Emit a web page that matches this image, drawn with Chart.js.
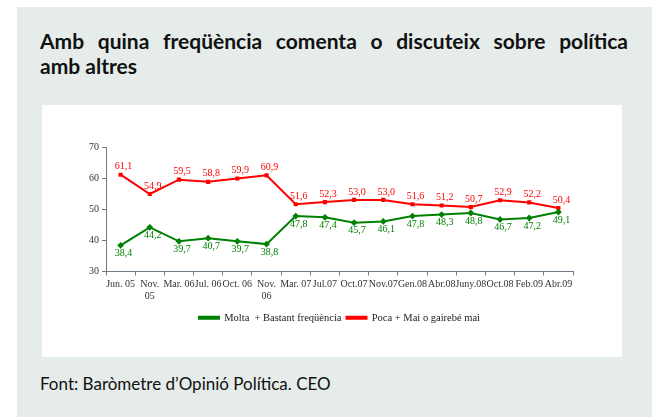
<!DOCTYPE html>
<html>
<head>
<meta charset="utf-8">
<script src="https://cdn.jsdelivr.net/npm/chart.js@4/dist/chart.umd.min.js"></script>
<style>
  html, body { margin: 0; padding: 0; background: #ffffff; }
  body { width: 657px; height: 417px; position: relative; overflow: hidden; }
  #panel { position: absolute; left: 17px; top: 7px; width: 635px; height: 410px; background: #e5ecea; }
  #title { position: absolute; left: 40px; top: 28px; width: 588px; font-family: Lato, "Open Sans", sans-serif; font-weight: bold; font-size: 21px; line-height: 25px; color: #111; }
  #title .l1 { display: block; text-align: justify; text-align-last: justify; white-space: nowrap; }
  #title .l2 { display: block; }
  #box { position: absolute; left: 42px; top: 105px; width: 580px; height: 252px; background: #ffffff; }
  #footer { position: absolute; left: 40px; top: 373px; font-family: Lato, "Open Sans", sans-serif; font-size: 17px; color: #111; }
</style>
</head>
<body>
<div id="panel"></div>
<div id="title"><span class="l1">Amb quina freqüència comenta o discuteix sobre política</span><span class="l2">amb altres</span></div>
<div id="box"><canvas id="c" width="580" height="252"></canvas></div>
<div id="footer">Font: Baròmetre d’Opinió Política. CEO</div>
<script>
const categories = ["Jun. 05", ["Nov.", "05"], "Mar. 06", "Jul. 06", "Oct. 06", ["Nov.", "06"], "Mar. 07", "Jul.07", "Oct.07", "Nov.07", "Gen.08", "Abr.08", "Juny.08", "Oct.08", "Feb.09", "Abr.09"];
const moltaBastant = [38.4, 44.2, 39.7, 40.7, 39.7, 38.8, 47.8, 47.4, 45.7, 46.1, 47.8, 48.3, 48.8, 46.7, 47.2, 49.1];
const pocaMai = [61.1, 54.9, 59.5, 58.8, 59.9, 60.9, 51.6, 52.3, 53.0, 53.0, 51.6, 51.2, 50.7, 52.9, 52.2, 50.4];
const yTicks = [30, 40, 50, 60, 70];
const seriesNames = ["Molta  + Bastant freqüència", "Poca + Mai o gairebé mai"];

const serif = "'Liberation Serif', 'DejaVu Serif', serif";

const labelPlugin = {
  id: 'valueLabels',
  afterDatasetsDraw(chart) {
    const ctx = chart.ctx;
    ctx.save();
    ctx.font = "10px " + serif;
    ctx.textAlign = 'center';
    ctx.textBaseline = 'middle';
    chart.data.datasets.forEach((ds, i) => {
      const meta = chart.getDatasetMeta(i);
      ctx.fillStyle = ds.borderColor;
      meta.data.forEach((pt, j) => {
        const txt = ds.data[j].toFixed(1).replace('.', ',');
        const dy = i === 0 ? 8 : -8;
        ctx.fillText(txt, pt.x + 3, pt.y + dy);
      });
    });
    ctx.restore();
  }
};

// Centre the legend under the plot area (as in the original) instead of the whole canvas
const legendShift = {
  id: 'legendShift',
  afterLayout(chart) {
    const lg = chart.legend;
    if (!lg) return;
    const ca = chart.chartArea;
    const dx = (ca.left + ca.right) / 2 - (lg.left + lg.right) / 2;
    lg.left += dx; lg.right += dx;
    if (lg.legendHitBoxes) lg.legendHitBoxes.forEach(b => { b.left += dx; });
  }
};

new Chart(document.getElementById('c'), {
  type: 'line',
  data: {
    labels: categories,
    datasets: [
      { label: seriesNames[0], data: moltaBastant, borderColor: '#008000', backgroundColor: '#008000', borderWidth: 2, pointRadius: 2, pointStyle: 'rectRot', tension: 0 },
      { label: seriesNames[1], data: pocaMai, borderColor: '#ff0000', backgroundColor: '#ff0000', borderWidth: 2, pointRadius: 1.5, pointStyle: 'rect', tension: 0 }
    ]
  },
  options: {
    responsive: false,
    animation: false,
    layout: { padding: { left: 0, right: 49, top: 42, bottom: 24 } },
    plugins: {
      tooltip: { enabled: false },
      legend: {
        position: 'bottom',
        labels: { font: { family: serif, size: 10.5 }, color: '#222', boxWidth: 20, boxHeight: 2, padding: 5 }
      }
    },
    scales: {
      x: {
        offset: true,
        afterFit(s) { s.height = 36; },
        grid: { offset: true, drawOnChartArea: false, drawTicks: true, tickLength: 4, color: '#6f7c88' },
        border: { color: '#6f7c88', width: 1 },
        ticks: { autoSkip: false, maxRotation: 0, minRotation: 0, padding: 3, font: { family: serif, size: 10 }, color: '#333', lineHeight: 1.1 }
      },
      y: {
        min: 30, max: 70,
        afterFit(s) { s.width = 64; },
        afterBuildTicks(s) { s.ticks = yTicks.map(v => ({ value: v })); },
        grid: { drawOnChartArea: false, drawTicks: true, tickLength: 4, color: '#6f7c88' },
        border: { color: '#6f7c88', width: 1 },
        ticks: { padding: 3, font: { family: serif, size: 10 }, color: '#333' }
      }
    }
  },
  plugins: [labelPlugin, legendShift]
});
</script>
</body>
</html>
